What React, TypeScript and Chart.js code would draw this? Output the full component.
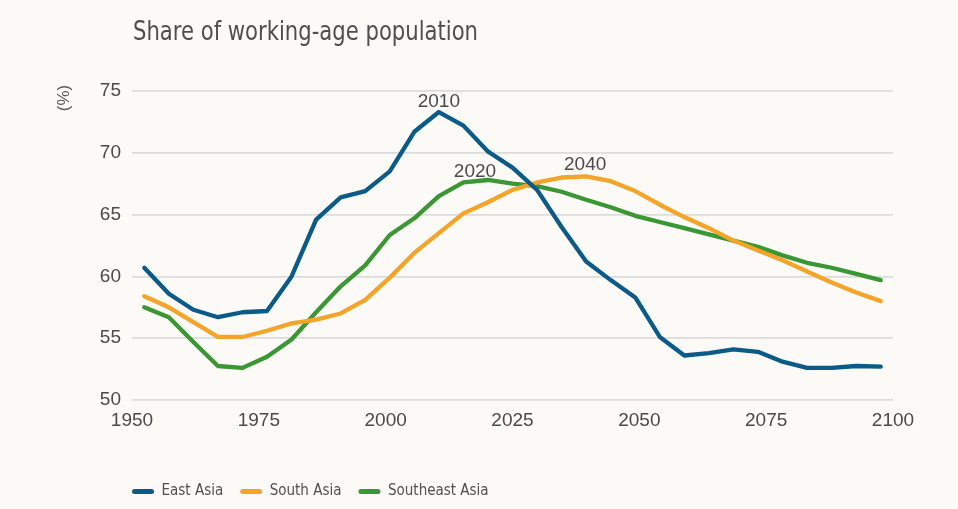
import React, { useEffect, useRef } from 'react';
import { Chart, registerables } from 'chart.js';

Chart.register(...registerables);

// ---------- data ----------
const years = [
  1950, 1955, 1960, 1965, 1970, 1975, 1980, 1985, 1990, 1995, 2000,
  2005, 2010, 2015, 2020, 2025, 2030, 2035, 2040, 2045, 2050,
  2055, 2060, 2065, 2070, 2075, 2080, 2085, 2090, 2095, 2100,
];
const eastAsia = [
  60.7, 58.6, 57.3, 56.7, 57.1, 57.2, 60.0, 64.6, 66.4, 66.9, 68.5,
  71.7, 73.3, 72.2, 70.1, 68.8, 67.0, 64.0, 61.2, 59.7, 58.3,
  55.1, 53.6, 53.8, 54.1, 53.9, 53.1, 52.6, 52.6, 52.75, 52.7,
];
const southAsia = [
  58.4, 57.5, 56.3, 55.1, 55.1, 55.6, 56.2, 56.5, 57.0, 58.1, 59.9,
  61.9, 63.5, 65.1, 66.0, 67.0, 67.6, 68.0, 68.1, 67.7, 66.9,
  65.8, 64.8, 63.9, 62.9, 62.1, 61.3, 60.4, 59.5, 58.7, 58.0,
];
const southeastAsia = [
  57.5, 56.7, 54.7, 52.75, 52.6, 53.5, 54.9, 57.1, 59.2, 60.9, 63.35,
  64.7, 66.5, 67.6, 67.8, 67.5, 67.3, 66.85, 66.2, 65.6, 64.9,
  64.4, 63.9, 63.4, 62.9, 62.4, 61.7, 61.1, 60.7, 60.2, 59.7,
];
const seriesNames = ['East Asia', 'South Asia', 'Southeast Asia'];
const xTickYears = [1950, 1975, 2000, 2025, 2050, 2075, 2100];
const yTickValues = [50, 55, 60, 65, 70, 75];
const peakYears = [2010, 2020, 2040];
const peakSeries = [0, 2, 1];
const titleText = 'Share of working-age population';
const unitText = '(%)';

// ---------- styles ----------
const COLORS = ['#0b5a87', '#f5a42a', '#3b9634'];
const BG = '#fbfaf6';
const NARROW = "'Liberation Sans Narrow', 'DejaVu Sans Condensed', 'Arial Narrow', sans-serif";
const SANS = "'Liberation Sans', Arial, Helvetica, sans-serif";
const TEXT = '#4a4a4a';

const bgPlugin = {
  id: 'bgFill',
  beforeDraw(chart: any) {
    const { ctx, width, height } = chart;
    ctx.save();
    ctx.fillStyle = BG;
    ctx.fillRect(0, 0, width, height);
    ctx.restore();
  },
};

const legendShiftPlugin = {
  id: 'legendShift',
  afterLayout(chart: any) {
    const lg = chart.legend;
    if (lg) {
      const pad = lg.options.labels.padding;
      lg.left -= pad;
      lg.right -= pad;
    }
  },
};

// condensed title, drawn as text at the top-left of the plot area
const titlePlugin = {
  id: 'condensedTitle',
  afterDraw(chart: any) {
    const { ctx, chartArea } = chart;
    ctx.save();
    ctx.font = `27px ${NARROW}`;
    ctx.fillStyle = '#4e4e4e';
    ctx.textAlign = 'left';
    ctx.textBaseline = 'alphabetic';
    const w = ctx.measureText(titleText).width;
    const sx = w > 0 ? 345 / w : 1;
    ctx.translate(chartArea.left + 1, 40);
    ctx.scale(sx, 1);
    ctx.fillText(titleText, 0, 0);
    ctx.restore();
  },
};

const annotationPlugin = {
  id: 'peakLabels',
  afterDatasetsDraw(chart: any) {
    const { ctx } = chart;
    const xs = chart.scales.x;
    const ys = chart.scales.y;
    const dxs = [0, -13, -1];
    const dys = [5, 3, 6.5];
    ctx.save();
    ctx.font = `19px ${SANS}`;
    ctx.fillStyle = TEXT;
    ctx.textAlign = 'center';
    ctx.textBaseline = 'alphabetic';
    peakYears.forEach((yr, i) => {
      const s = peakSeries[i];
      const idx = years.indexOf(yr);
      const v = chart.data.datasets[s].data[idx];
      const px = xs.getPixelForValue(idx);
      const py = ys.getPixelForValue(v);
      ctx.fillText(String(yr), px + dxs[i], py - dys[i]);
    });
    // unit label, rotated
    ctx.translate(64, 98);
    ctx.rotate(-Math.PI / 2);
    ctx.font = `17px ${SANS}`;
    ctx.fillStyle = '#5a5a5a';
    ctx.textAlign = 'center';
    ctx.textBaseline = 'middle';
    ctx.fillText(unitText, 0, 0);
    ctx.restore();
  },
};

export default function App() {
  const canvasRef = useRef<HTMLCanvasElement | null>(null);

  useEffect(() => {
    document.body.style.margin = '0';
    document.body.style.background = BG;
    const canvas = canvasRef.current;
    if (!canvas) return;
    const seriesData = [eastAsia, southAsia, southeastAsia];
    const chart = new Chart(canvas, {
      type: 'line',
      data: {
        labels: years.map(String),
        datasets: seriesNames.map((name, i) => ({
          label: name,
          data: seriesData[i],
          borderColor: COLORS[i],
          backgroundColor: COLORS[i],
          borderWidth: 4.3,
          pointRadius: 0,
          tension: 0,
          fill: false,
          borderJoinStyle: 'round' as const,
          borderCapStyle: 'round' as const,
          xAxisID: 'x',
          yAxisID: 'y',
        })),
      },
      options: {
        animation: false,
        responsive: true,
        maintainAspectRatio: false,
        events: [],
        layout: { padding: { top: 91, left: 0, right: 65, bottom: 0 } },
        plugins: {
          tooltip: { enabled: false },
          title: { display: false },
          legend: {
            display: true,
            position: 'bottom',
            align: 'start',
            fullSize: false,
            labels: {
              boxWidth: 22,
              boxHeight: 5,
              padding: 17,
              color: '#505050',
              font: { family: NARROW, size: 15 },
              useBorderRadius: true,
              borderRadius: 2.5,
              generateLabels: (ch: any) =>
                Chart.defaults.plugins.legend.labels
                  .generateLabels(ch)
                  .map((l: any) => ({ ...l, fillStyle: l.strokeStyle, lineWidth: 0, borderRadius: 2.5 })),
            },
          },
        },
        scales: {
          x: {
            type: 'category',
            display: false,
            offset: true,
          },
          x2: {
            type: 'linear',
            position: 'bottom',
            min: xTickYears[0],
            max: xTickYears[xTickYears.length - 1],
            grid: { display: false, drawTicks: false },
            border: { display: false },
            afterBuildTicks: (s: any) => {
              s.ticks = xTickYears.map((v) => ({ value: v }));
            },
            afterFit: (s: any) => {
              s.height = 67;
            },
            ticks: {
              padding: 9,
              color: TEXT,
              font: { family: SANS, size: 19 },
              maxRotation: 0,
              autoSkip: false,
              callback: (v: any) => String(v),
            },
          },
          y: {
            type: 'linear',
            position: 'left',
            min: yTickValues[0],
            max: yTickValues[yTickValues.length - 1],
            grid: { color: '#dcdcdc', lineWidth: 1.8, drawTicks: false },
            border: { display: false },
            afterBuildTicks: (s: any) => {
              s.ticks = yTickValues.map((v) => ({ value: v }));
            },
            afterFit: (s: any) => {
              s.width = 132;
            },
            ticks: {
              padding: 11,
              color: TEXT,
              font: { family: SANS, size: 19 },
              callback: (v: any) => String(v),
            },
          },
        },
      },
      plugins: [bgPlugin, legendShiftPlugin, annotationPlugin, titlePlugin],
    } as any);
    return () => chart.destroy();
  }, []);

  return (
    <div style={{ position: 'relative', width: 958, height: 509 }}>
      <canvas ref={canvasRef} />
    </div>
  );
}
